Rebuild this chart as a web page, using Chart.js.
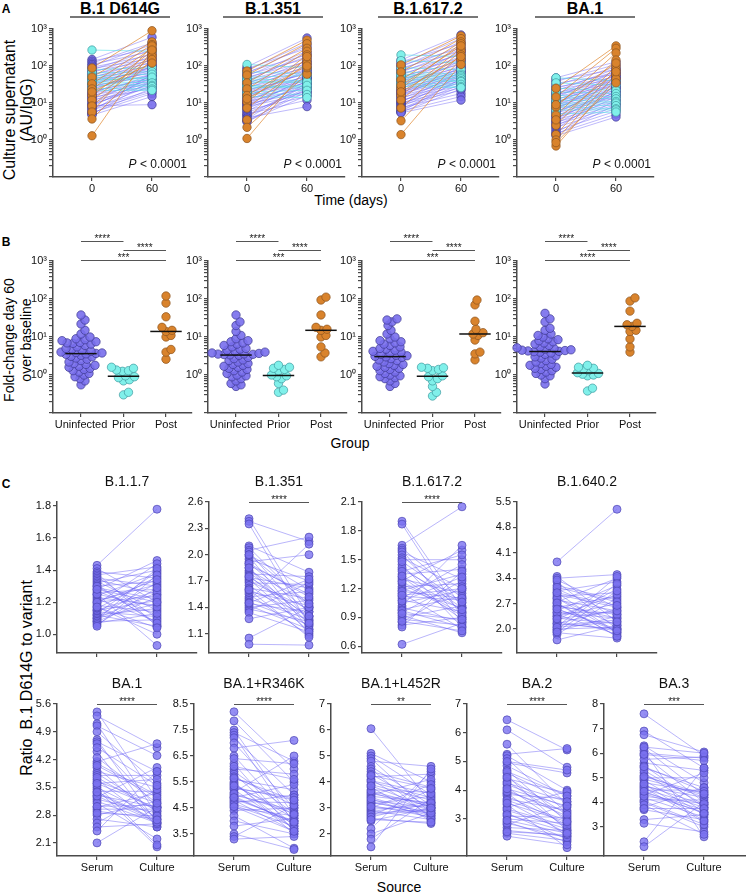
<!DOCTYPE html>
<html>
<head>
<meta charset="utf-8">
<script src="https://cdn.jsdelivr.net/npm/chart.js@4.4.1/dist/chart.umd.min.js"></script>
<style>
body { margin: 0; background: #fff; width: 746px; height: 895px; position: relative; overflow: hidden;
  font-family: "Liberation Sans", Arial, sans-serif; color: #000; }
canvas { position: absolute; }
.t { position: absolute; white-space: nowrap; }
.rule { position: absolute; height: 2px; background: #777; }
</style>
</head>
<body>
<script>
// ---------- panel A : culture supernatant, day 0 vs day 60 ----------
const aVariants = ['B.1 D614G', 'B.1.351', 'B.1.617.2', 'BA.1'];
const aDays = [0, 60];
const aTickText = {1: '10⁰', 10: '10¹', 100: '10²', 1000: '10³'};

const aUninfDay0 = [
  [150,135,120,110,100,92,85,78,72,66,60,56,52,48,45,42,40,38,35,33,31,29,27,25,23,21,20,18,17,16,15,14,13,12,11,10,9.5,9,8.5,8,7.5,7,6.5,6,5.5,5.2,5,4.7],
  [95,85,78,70,64,58,54,50,46,42,39,36,33,31,29,27,25,23,21,20,19,18,17,16,15,14,13,12,11,10.5,10,9.5,9,8.5,8,7.5,7,6.5,6,5.5,5,4.7,4.4,4,3.7,3.4,3.2,3.1],
  [145,130,115,105,95,88,80,74,68,62,57,52,48,45,42,39,36,34,32,30,28,26,24,22,21,20,19,18,17,16,15,14,13,12,11,10.5,10,9.5,9,8.5,8,7.5,7,6.5,6,5.8,5.6,5.4],
  [48,42,38,34,30,27,25,23,21,19,18,17,16,15,14,13,12,11,10.5,10,9.5,9,8.5,8,7.5,7,6.6,6.2,5.8,5.4,5,4.7,4.4,4.1,3.8,3.5,3.2,3,2.8,2.6,2.4,2.2,2,1.8,1.6,1.5,1.4,1.3]
];
const aUninfDay60 = [
  [600,300,420,250,380,200,160,280,140,220,120,180,100,150,90,130,75,110,85,65,95,55,70,60,80,45,50,40,100,35,60,30,45,25,55,40,28,35,9,50,22,30,20,60,18,25,40,15],
  [570,300,420,200,350,160,250,130,180,110,220,90,140,75,120,60,100,50,85,65,45,70,40,55,35,80,30,48,25,60,38,20,45,28,18,50,33,15,40,22,12,30,26,8,35,20,16,25],
  [690,400,550,300,450,250,350,200,280,160,220,130,180,110,150,90,250,80,120,70,100,60,140,55,85,50,75,45,65,40,95,35,58,30,48,70,26,42,22,55,38,18,32,28,15,45,24,12],
  [130,80,110,60,95,50,70,45,85,40,65,35,55,30,75,28,48,25,42,22,60,20,38,18,33,16,50,15,27,14,40,12,24,11,20,10,30,9,18,8,15,7,22,6,12,5,9,4.2]
];
const aPriorDay0 = [
  [270,80,65,55,50,45,40,38,35,30,25,22],
  [110,70,50,45,40,35,30,28,25,20,18,15],
  [200,140,90,70,60,55,50,45,40,35,32,28],
  [48,35,25,20,16,14,12,10,9,8,6.5,5]
];
const aPriorDay60 = [
  [250,90,70,60,45,40,50,35,30,28,24,22],
  [90,60,55,40,35,38,28,25,30,22,17,14],
  [180,120,80,60,55,50,45,40,38,32,28,26],
  [40,30,22,18,15,13,11,10,8.5,7,6.5,5.7]
];
const aPostDay0 = [
  [88,50,33,24,16,12,8.3,5.7,3.7,1.3,20],
  [73,57,35,24,16,10.6,7.3,3.5,2.2,1.1,13],
  [107,69,42,25,16,12,7.3,3.3,1.4,30,20],
  [25,14.5,7.8,4.7,2.5,1.4,1.0,0.69,9,3.5,0.85]
];
const aPostDay60 = [
  [900,450,380,300,250,200,180,350,150,270,120],
  [500,400,300,250,150,200,120,180,60,90,100],
  [650,550,450,400,300,250,200,150,110,350,180],
  [350,300,225,145,100,80,60,45,120,70,35]
];

// ---------- panel B : fold change day 60 over baseline ----------
const bGroups = ['Uninfected', 'Prior', 'Post'];
const bUninf = [
  [38,28,22,15,12,10,9,8.5,8,7.5,7.2,7,6.8,6.5,6,5.5,5,4.8,4.5,4.2,4,3.9,3.8,3.7,3.6,3.5,3.3,3.1,3,2.8,2.6,2.4,2.2,2,1.9,1.8,1.7,1.6,1.5,1.4,1.3,1.2,1.1,1.0,0.9,0.8,0.7,0.55],
  [38,25,20,14,11,9,8,7.5,7,6.5,6,5.5,5,4.8,4.5,4.2,4,3.8,3.7,3.6,3.55,3.5,3.45,3.4,3.3,2.9,2.7,2.5,2.4,2.2,2,1.9,1.8,1.7,1.6,1.5,1.4,1.3,1.2,1.1,1,0.95,0.9,0.8,0.7,0.6,0.55,0.5],
  [30,28,25,20,15,12,10,9,8,7.5,7,6.5,6,5.5,5,4.8,4.5,4.2,4,3.8,3.5,3.3,3.2,3.1,3,2.9,2.7,2.5,2.4,2.2,2,1.9,1.8,1.7,1.6,1.5,1.4,1.3,1.2,1.1,1,0.95,0.9,0.85,0.8,0.7,0.6,0.5],
  [42,30,25,17,15,12,11,10,9,8.5,8,7.5,7,6.5,6,5.5,5.2,5,4.8,4.6,4.5,4.4,4.3,4.2,4.1,4,3.8,3.5,3.2,3,2.8,2.6,2.4,2.2,2,1.9,1.8,1.7,1.6,1.5,1.4,1.3,1.2,1.1,1,0.95,0.8,0.58]
];
const bPrior = [
  [1.6,1.5,1.35,1.3,1.25,0.95,0.9,0.85,0.75,0.7,0.35,0.3],
  [1.8,1.6,1.5,1.4,1.3,1.0,0.95,0.9,0.8,0.6,0.4,0.35],
  [1.6,1.55,1.5,1.4,1.3,0.95,0.9,0.8,0.7,0.5,0.35,0.28],
  [1.8,1.6,1.5,1.45,1.3,1.15,1.1,1.05,1.0,0.95,0.45,0.38]
];
const bPost = [
  [120,78,34,18,15,14,11,10,4.7,4,2.6],
  [112,94,38,18,16,15,11,10,5.5,3.8,3],
  [94,70,26,16,13,12,11,8.3,4,3.6,2.5],
  [107,88,48,23,21,19,15,14,8.9,5.5,4]
];
const bSig = [['****','****','***'], ['****','****','***'], ['****','****','***'], ['****','****','****']];

// ---------- panel C : ratio B.1 D614G to variant, serum vs culture ----------
const cVariants = ['B.1.1.7','B.1.351','B.1.617.2','B.1.640.2','BA.1','BA.1+R346K','BA.1+L452R','BA.2','BA.3'];
const cSource = ['Serum', 'Culture'];
const cSig = ['', '****', '****', '', '****', '****', '**', '****', '***'];
const cYMin = [0.883, 0.88, 0.53, 1.34, 1.77, 2.65, 1.15, 1.71, 1.82];
const cYMax = [1.825, 2.6, 2.1, 5.5, 5.6, 8.5, 7, 7, 8];
const cTicks = [
  [1.0,1.2,1.4,1.6,1.8], [1.1,1.4,1.7,2.0,2.3,2.6], [0.6,0.9,1.2,1.5,1.8,2.1], [2.0,2.7,3.4,4.1,4.8,5.5],
  [2.1,2.8,3.5,4.2,4.9,5.6], [3.5,4.5,5.5,6.5,7.5,8.5], [2,3,4,5,6,7], [3,4,5,6,7], [3,4,5,6,7,8]
];
const cDecimals = [1,1,1,1,1,1,0,0,0];
const cSerum = [
  [1.43,1.41,1.39,1.38,1.37,1.36,1.35,1.34,1.33,1.32,1.31,1.30,1.29,1.28,1.27,1.26,1.25,1.24,1.23,1.22,1.21,1.20,1.19,1.18,1.17,1.16,1.15,1.15,1.14,1.13,1.12,1.12,1.11,1.10,1.10,1.09,1.08,1.08,1.07,1.06,1.05,1.30,1.25,1.20,1.28,1.17],
  [2.41,2.38,2.35,2.1,2.08,2.05,2.03,2.0,1.98,1.95,1.92,1.9,1.88,1.85,1.82,1.8,1.78,1.76,1.74,1.72,1.7,1.68,1.65,1.62,1.6,1.58,1.55,1.52,1.5,1.48,1.46,1.44,1.42,1.4,1.38,1.36,1.34,1.27,1.05,0.98,1.9,1.75,1.6,1.45,2.0,1.85],
  [1.9,1.87,1.65,1.62,1.6,1.58,1.55,1.52,1.5,1.45,1.4,1.35,1.32,1.3,1.28,1.25,1.22,1.2,1.18,1.15,1.12,1.1,1.08,1.05,1.02,1.0,0.98,0.95,0.92,0.9,0.88,0.85,0.82,0.8,0.62,1.42,1.38,1.27,1.17,1.07,0.97,1.48,1.33,1.13,0.94,0.86],
  [3.85,3.45,3.4,3.3,3.2,3.1,3.05,3.0,2.95,2.9,2.85,2.8,2.75,2.7,2.65,2.6,2.55,2.5,2.45,2.4,2.35,2.3,2.25,2.2,2.15,2.1,2.05,2.0,1.95,1.9,1.85,1.7,3.35,2.85,2.35,2.45,2.15,1.98,2.62,2.72,3.15,2.05,2.28,1.92,2.55,3.0],
  [5.4,5.3,5.1,5.05,4.9,4.7,4.65,4.6,4.4,4.15,4.1,4.0,3.9,3.85,3.8,3.7,3.65,3.6,3.5,3.45,3.4,3.35,3.3,3.25,3.2,3.15,3.1,3.0,2.95,2.9,2.8,2.7,2.6,2.5,2.4,2.1,3.55,3.75,4.05,3.28,3.02,4.5,2.85,3.38,3.6,4.25],
  [8.2,7.85,7.5,7.4,7.3,7.2,7.0,6.8,6.5,6.2,6.0,5.9,5.8,5.7,5.6,5.5,5.4,5.3,5.2,5.1,5.0,4.95,4.9,4.85,4.8,4.75,4.7,4.6,4.5,4.4,4.2,4.0,3.8,3.5,3.4,3.3,5.25,5.45,4.65,6.1,5.05,4.55,5.65,4.9,5.35,6.4],
  [6.05,5.1,5.0,4.9,4.8,4.6,4.5,4.4,4.3,4.2,4.1,4.0,3.9,3.8,3.7,3.6,3.5,3.45,3.4,3.3,3.2,3.15,3.1,3.0,2.95,2.9,2.85,2.8,2.7,2.6,2.5,2.2,2.0,1.8,1.5,3.55,3.25,3.65,2.75,4.05,3.35,2.65,3.05,4.25,3.85,2.55],
  [6.45,6.1,5.6,5.25,5.2,5.1,4.95,4.85,4.7,4.6,4.5,4.4,4.3,4.2,4.1,4.0,3.9,3.85,3.8,3.7,3.6,3.5,3.4,3.3,3.2,3.1,3.0,2.9,2.8,2.7,2.6,2.5,2.4,4.65,3.95,3.35,2.85,4.25,3.65,5.0,2.55,3.15,4.45,3.55,2.95,4.05],
  [7.6,6.9,6.75,6.3,6.2,6.0,5.9,5.6,5.5,5.4,5.2,5.1,5.0,4.9,4.8,4.7,4.6,4.5,4.4,4.3,4.2,4.1,4.0,3.8,3.7,3.3,3.15,2.4,2.2,5.3,4.65,4.35,5.75,4.05,6.1,4.95,4.55,3.9,5.45,4.25,6.25,4.75,5.05,3.75,4.45,5.95]
];
const cCulture = [
  [1.78,1.20,1.35,1.05,1.42,1.10,1.30,1.25,1.15,1.40,1.06,1.33,1.22,1.46,1.12,1.28,0.93,1.38,1.18,1.08,1.31,1.24,1.44,1.14,1.00,1.36,1.21,1.27,1.11,1.39,1.16,1.05,1.32,1.26,1.19,1.41,1.09,1.23,1.13,1.29,1.37,1.07,1.17,1.34,1.20,1.04],
  [1.3,2.15,1.2,1.8,1.4,2.2,1.25,1.6,1.15,1.7,2.0,1.35,1.55,1.1,1.45,1.28,1.75,1.22,1.62,1.13,1.38,1.66,1.18,1.5,1.3,1.42,1.08,1.58,1.26,2.12,1.2,1.35,1.15,1.48,1.24,1.68,1.12,1.4,1.4,0.97,1.52,1.3,1.06,1.72,1.44,1.22],
  [1.0,0.9,2.05,1.1,0.85,1.3,0.95,1.2,1.5,0.8,1.05,1.4,0.88,1.15,1.6,0.92,1.25,1.0,1.35,0.78,1.08,1.45,0.96,1.18,1.65,0.86,1.12,1.28,0.74,1.02,0.82,1.22,0.9,1.38,0.84,1.0,1.55,0.94,1.1,1.32,0.8,1.06,0.98,1.2,0.88,0.76],
  [5.3,2.2,3.5,2.0,2.8,2.4,3.3,1.9,2.6,3.0,2.1,2.5,3.4,1.8,2.3,2.9,2.0,3.2,2.45,1.85,2.7,2.15,3.1,1.95,2.55,2.25,3.45,2.05,2.35,1.75,2.85,2.1,2.6,1.9,2.95,2.3,2.0,3.25,2.4,1.8,2.75,2.2,2.5,3.05,1.95,2.65],
  [3.2,4.5,2.8,4.3,3.6,2.6,3.9,3.0,2.5,4.6,3.3,2.7,3.5,2.9,3.8,2.55,3.1,3.7,2.75,2.0,3.4,2.65,3.0,4.0,2.85,2.6,2.2,3.35,2.95,2.7,3.15,2.5,3.45,2.58,3.9,3.0,2.05,2.9,3.25,2.62,3.05,3.55,2.78,2.68,2.98,3.1],
  [6.0,5.5,4.2,6.3,3.9,5.0,4.5,7.1,4.0,3.6,5.8,4.3,3.8,4.6,5.2,3.5,4.1,4.8,3.7,6.5,4.4,3.9,5.4,4.0,3.6,4.7,5.0,3.8,4.2,4.5,2.95,3.5,4.1,2.9,4.6,3.4,4.9,3.7,4.0,5.6,4.3,3.6,4.8,3.95,4.25,6.2],
  [3.2,4.0,3.5,2.8,4.6,3.1,2.6,3.8,3.0,4.3,2.7,3.4,3.3,2.5,3.6,2.9,4.1,3.2,2.75,3.0,2.85,3.45,2.65,3.9,3.1,2.55,3.25,2.95,3.7,2.4,3.0,4.4,2.8,3.35,4.5,3.15,2.7,3.05,2.9,3.55,2.6,3.2,2.8,3.75,3.0,2.45],
  [5.4,4.8,3.5,5.45,4.0,3.2,4.6,3.8,2.9,3.6,2.6,3.9,3.0,3.4,2.7,3.1,2.4,3.7,2.8,3.3,2.5,2.0,3.95,2.65,2.3,3.05,2.85,2.2,3.5,2.6,2.4,2.25,2.1,3.8,3.25,2.75,2.35,3.6,2.95,4.7,2.45,2.55,3.15,2.9,2.5,3.45],
  [5.9,5.4,6.05,4.8,4.3,5.8,4.0,5.3,3.8,4.6,3.6,4.2,5.0,3.5,4.4,3.9,3.2,4.5,3.7,5.2,3.4,4.1,3.0,4.6,3.3,3.5,2.8,5.4,4.0,3.9,4.2,3.6,5.85,3.1,2.6,4.3,3.8,2.7,4.45,3.95,6.0,3.25,4.35,3.75,3.55,5.7]
];

// ---------- styling ----------
const FONT = '"Liberation Sans", Arial, sans-serif';
const AXIS = '#4a4a4a';
const PUR = {fill: 'rgba(120,110,236,0.9)', edge: '#3d3990', line: 'rgba(105,95,245,0.55)'};
const CYA = {fill: '#80f0ea', edge: '#3f999f', line: 'rgba(80,225,232,0.75)'};
const ORA = {fill: '#d9832c', edge: '#8c5420', line: 'rgba(222,130,38,0.85)'};
const CPT = {fill: 'rgba(122,114,240,0.8)', edge: '#4c45b5', line: 'rgba(108,98,245,0.6)'};

const YW = 46, XH = 24, PT = 34, PR = 8;

function place(l, t, w, h) {
  const c = document.createElement('canvas');
  const cw = w + YW + PR, ch = h + PT + XH;
  c.width = cw; c.height = ch;
  c.style.left = (l - YW) + 'px'; c.style.top = (t - PT) + 'px';
  c.style.width = cw + 'px'; c.style.height = ch + 'px';
  document.body.appendChild(c);
  return c;
}

function txt(s, cx, cy, css, rot) {
  const d = document.createElement('div');
  d.className = 't';
  d.innerHTML = s;
  d.style.cssText = `left:${cx}px;top:${cy}px;transform:translate(-50%,-50%)${rot ? ' rotate(-90deg)' : ''};` + css;
  document.body.appendChild(d);
}

function rule(x1, x2, y) {
  const d = document.createElement('div');
  d.className = 'rule';
  d.style.left = x1 + 'px'; d.style.top = y + 'px'; d.style.width = (x2 - x1) + 'px';
  document.body.appendChild(d);
}

function xAxis(min, max, ticks, labels) {
  return {
    type: 'linear', min, max,
    afterBuildTicks: s => { s.ticks = ticks.map(v => ({value: v})); },
    afterFit: s => { s.height = XH; },
    border: {display: true, color: AXIS, width: 1.5},
    grid: {drawOnChartArea: false, drawTicks: true, tickLength: 4, color: AXIS, lineWidth: 1.2},
    ticks: {autoSkip: false, maxRotation: 0, padding: 1, color: '#111', font: {family: FONT, size: 11},
      callback: (v, i) => labels ? labels[i] : String(v)}
  };
}

function yAxis(type, min, max, ticks, fmt) {
  return {
    type, min, max, position: 'left',
    afterBuildTicks: s => { s.ticks = ticks.map(v => ({value: v})); },
    afterFit: s => { s.width = YW; },
    border: {display: true, color: AXIS, width: 1.5},
    grid: {drawOnChartArea: false, drawTicks: true, tickLength: 4, color: AXIS, lineWidth: 1.2},
    ticks: {autoSkip: false, padding: 2, color: '#111', font: {family: FONT, size: 11}, callback: fmt}
  };
}

function options(x, y, decor) {
  return {
    responsive: false, animation: false, events: [],
    layout: {padding: {left: 0, top: PT, right: PR, bottom: 0}},
    scales: {x, y},
    plugins: {legend: {display: false}, tooltip: {enabled: false}, decor}
  };
}

function pairLine(x0, x1, v0, v1, color, order) {
  const pts = [];
  v0.forEach((v, i) => { pts.push({x: x0, y: v}, {x: x1, y: v1[i]}, {x: x1, y: null}); });
  return {data: pts, showLine: true, spanGaps: false, borderColor: color, borderWidth: 0.8,
    pointRadius: 0, clip: false, order};
}

function dots(pts, c, r, order) {
  return {data: pts, showLine: false, pointRadius: r, backgroundColor: c.fill,
    borderColor: c.edge, borderWidth: 0.7, clip: false, order};
}

function column(x0, x1, v0, v1) {
  return v0.map(v => ({x: x0, y: v})).concat(v1.map(v => ({x: x1, y: v})));
}

function median(a) {
  const s = a.slice().sort((p, q) => p - q), m = s.length >> 1;
  return s.length % 2 ? s[m] : (s[m - 1] + s[m]) / 2;
}

// beeswarm layout: nudge each point sideways until it no longer overlaps
function swarm(vals, cx, pxUnit, pxDec, dmin) {
  const order = vals.map((v, i) => i).sort((a, b) => vals[a] - vals[b]);
  const placed = [], out = [];
  order.forEach(i => {
    const y = Math.log10(vals[i]) * pxDec;
    let dx = 0;
    for (let k = 0; k < 400; k++) {
      const cand = k === 0 ? 0 : (k % 2 ? 1 : -1) * Math.ceil(k / 2);
      if (placed.every(p => (p.x - cand) ** 2 + (p.y - y) ** 2 >= dmin * dmin)) { dx = cand; break; }
    }
    placed.push({x: dx, y});
    out.push({x: cx + dx / pxUnit, y: vals[i]});
  });
  return out;
}

const decorPlugin = {
  id: 'decor',
  afterDatasetsDraw(chart, args, o) {
    const ctx = chart.ctx, xs = chart.scales.x, a = chart.chartArea;
    ctx.save();
    ctx.textAlign = 'center';
    if (o.title) {
      ctx.font = '14px ' + FONT; ctx.fillStyle = '#111'; ctx.textBaseline = 'middle';
      ctx.fillText(o.title, (xs.getPixelForValue(0) + xs.getPixelForValue(1)) / 2, a.top - 20);
    }
    (o.brackets || []).forEach(b => {
      if (!b.text) return;
      const x1 = xs.getPixelForValue(b.from), x2 = xs.getPixelForValue(b.to), y = a.top + b.dy;
      ctx.strokeStyle = '#555'; ctx.lineWidth = 1;
      ctx.beginPath(); ctx.moveTo(x1, y + 0.5); ctx.lineTo(x2, y + 0.5); ctx.stroke();
      ctx.font = '10px ' + FONT; ctx.fillStyle = '#222'; ctx.textBaseline = 'alphabetic';
      ctx.fillText(b.text, (x1 + x2) / 2, y + 1);
    });
    if (o.note) {
      ctx.fillStyle = '#111'; ctx.textBaseline = 'middle'; ctx.textAlign = 'right';
      ctx.font = '12px ' + FONT;
      const rest = ' < 0.0001', xr = a.right - 3, y = a.bottom - 12;
      ctx.fillText(rest, xr, y);
      const w = ctx.measureText(rest).width;
      ctx.font = 'italic 12px ' + FONT;
      ctx.fillText('P', xr - w, y);
    }
    ctx.restore();
  }
};
Chart.register(decorPlugin);

const logTicks = [];
for (let e = -1; e < 3; e++) for (let m = 1; m < 10; m++) logTicks.push(+(m * Math.pow(10, e)).toPrecision(2));
logTicks.push(1000);
const logLabel = v => aTickText[v] || '';

// ---------- page text ----------
txt('A', 6, 9, 'font-weight:bold;font-size:12px');
txt('B', 6, 242, 'font-weight:bold;font-size:12px');
txt('C', 6, 484, 'font-weight:bold;font-size:12px');
const aTitleX = [120, 273, 428, 585];
aVariants.forEach((v, k) => {
  txt(v, aTitleX[k], 9, 'font-weight:bold;font-size:16px');
  rule(aTitleX[k] - 50, aTitleX[k] + 50, 16);
});
txt('Culture supernatant<br>(AU/IgG)', 18, 110, 'font-size:16px;line-height:17px;text-align:center', true);
txt('Time (days)', 351, 200, 'font-size:14px');
txt('Fold-change day 60<br>over baseline', 18, 340, 'font-size:14px;line-height:17px;text-align:center', true);
txt('Group', 350, 443, 'font-size:14px');
txt('Ratio&nbsp; B.1 D614G to variant', 27, 678, 'font-size:16px', true);
txt('Source', 399, 887, 'font-size:14px');

// ---------- panel A charts ----------
const abLeft = [53, 208, 362, 517];
aVariants.forEach((name, k) => {
  new Chart(place(abLeft[k], 29, 137, 148), {
    type: 'line',
    data: {datasets: [
      dots(column(0, 60, aPostDay0[k], aPostDay60[k]), ORA, 4.2, 0),
      dots(column(0, 60, aPriorDay0[k], aPriorDay60[k]), CYA, 4.2, 1),
      dots(column(0, 60, aUninfDay0[k], aUninfDay60[k]), PUR, 4.2, 2),
      pairLine(0, 60, aPostDay0[k], aPostDay60[k], ORA.line, 3),
      pairLine(0, 60, aPriorDay0[k], aPriorDay60[k], CYA.line, 4),
      pairLine(0, 60, aUninfDay0[k], aUninfDay60[k], PUR.line, 5)
    ]},
    options: options(xAxis(-39, 98, aDays, null), yAxis('logarithmic', 0.1, 1000, logTicks, logLabel), {note: true})
  });
});

// ---------- panel B charts ----------
aVariants.forEach((name, k) => {
  const groups = [[bUninf[k], PUR], [bPrior[k], CYA], [bPost[k], ORA]];
  const sets = [];
  groups.forEach(([vals, col], g) => {
    const m = median(vals);
    sets.push({data: [{x: g - 0.37, y: m}, {x: g + 0.37, y: m}], showLine: true, borderColor: '#111',
      borderWidth: 1.5, pointRadius: 0, clip: false, order: -1});
    sets.push(dots(swarm(vals, g, 42.5, 38, 5.2), col, 4.2, g));
  });
  new Chart(place(abLeft[k], 261, 139, 152), {
    type: 'line',
    data: {datasets: sets},
    options: options(xAxis(-0.659, 2.612, [0, 1, 2], bGroups), yAxis('logarithmic', 0.1, 1000, logTicks, logLabel), {
      brackets: [
        {from: 0, to: 1, dy: -20, text: bSig[k][0]},
        {from: 1, to: 2, dy: -11, text: bSig[k][1]},
        {from: 0, to: 2, dy: -1, text: bSig[k][2]}
      ]
    })
  });
});

// ---------- panel C charts ----------
const cBox = [
  [57, 502, 140, 151], [209, 502, 140, 151], [362, 502, 140, 151], [517, 502, 140, 151],
  [57, 704, 137, 152], [194, 704, 137, 152], [331, 704, 136, 152], [467, 704, 137, 152], [604, 704, 142, 152]
];
cVariants.forEach((name, k) => {
  const [l, t, w, h] = cBox[k];
  const dec = cDecimals[k];
  new Chart(place(l, t, w, h), {
    type: 'line',
    data: {datasets: [
      dots(column(0, 1, cSerum[k], cCulture[k]), CPT, 4, 0),
      pairLine(0, 1, cSerum[k], cCulture[k], CPT.line, 1)
    ]},
    options: options(
      xAxis(-40 / 60, (w - 40) / 60, [0, 1], k < 4 ? ['', ''] : cSource),
      yAxis('linear', cYMin[k], cYMax[k], cTicks[k], v => v.toFixed(dec)),
      {title: name, brackets: [{from: 0, to: 1, dy: 0, text: cSig[k]}]}
    )
  });
});
</script>
</body>
</html>
